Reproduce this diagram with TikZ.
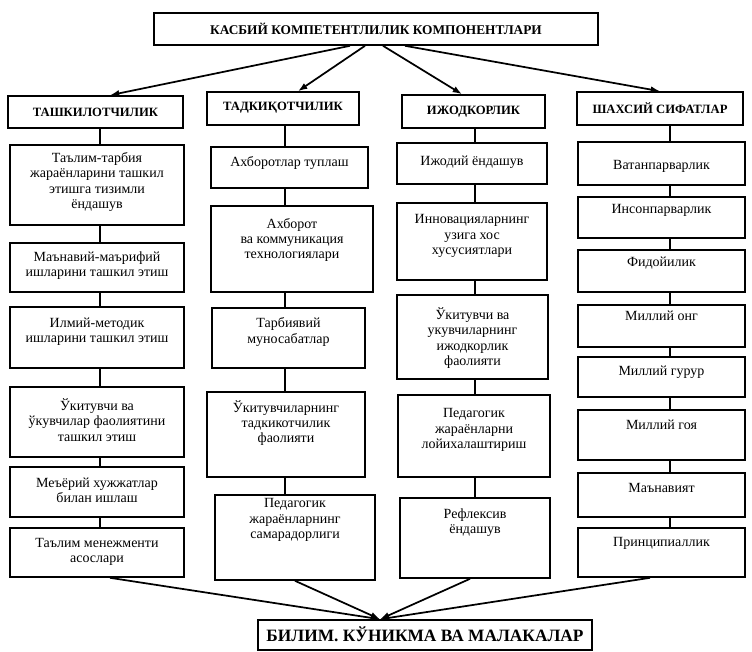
\documentclass[tikz,border=0pt]{standalone}
\usepackage{fontspec}
\setmainfont{Liberation Serif}
\usetikzlibrary{arrows.meta,calc,fit}
\tikzset{
  bx/.style={draw, line width=1.2pt, rectangle, inner sep=0pt},
  tx/.style={align=center, font=\fontsize{10.5}{11.4}\selectfont, inner sep=0pt},
  hd/.style={align=center, font=\fontsize{9.5}{11}\selectfont\bfseries, inner sep=0pt},
  ttl/.style={align=center, font=\fontsize{10}{11}\selectfont\bfseries, inner sep=0pt},
  bg/.style={align=center, font=\fontsize{13}{15}\selectfont\bfseries, inner sep=0pt},
  ln/.style={line width=1.2pt},
  ar/.style={line width=1.3pt, -{Latex[length=7pt,width=5pt]}},
}
% name, x1, y1, x2, y2, text y, text, style
\newcommand\mybox[8]{%
  \node[bx, fit={(#2,#3)(#4,#5)}] (#1) {};
  \node[#8] (#1t) at ({(#2+#4)/2},#6) {#7};
}
\begin{document}
\begin{tikzpicture}[x=0.75pt,y=-0.75pt]
\fill[white] (0,0) rectangle (752,651);
\useasboundingbox (0,0) rectangle (752,651);

% title and headers
\mybox{title}{154}{13}{598}{45}{29}{КАСБИЙ КОМПЕТЕНТЛИЛИК КОМПОНЕНТЛАРИ}{ttl}
\mybox{h1}{8}{96}{183}{128}{112}{ТАШКИЛОТЧИЛИК}{hd}
\mybox{h2}{207}{92}{359}{125}{108}{ТАДКИҚОТЧИЛИК}{hd}
\mybox{h3}{402}{95}{545}{128}{112}{ИЖОДКОРЛИК}{hd}
\mybox{h4}{577}{92}{743}{125}{108}{ШАХСИЙ СИФАТЛАР}{hd}

% column 1
\mybox{c11}{10}{145}{184}{225}{182}{Таълим-тарбия\\жараёнларини ташкил\\этишга тизимли\\ёндашув}{tx}
\mybox{c12}{10}{243}{184}{292}{266}{Маънавий-маърифий\\ишларини ташкил этиш}{tx}
\mybox{c13}{10}{307}{184}{368}{332}{Илмий-методик\\ишларини ташкил этиш}{tx}
\mybox{c14}{10}{387}{184}{457}{420}{Ўкитувчи ва\\ўкувчилар фаолиятини\\ташкил этиш}{tx}
\mybox{c15}{10}{467}{184}{517}{490}{Меъёрий хужжатлар\\билан ишлаш}{tx}
\mybox{c16}{10}{528}{184}{577}{552}{Таълим менежменти\\асослари}{tx}

% column 2
\mybox{c21}{211}{147}{368}{188}{163}{Ахборотлар туплаш}{tx}
\mybox{c22}{211}{206}{373}{292}{240}{Ахборот\\ва коммуникация\\технологиялари}{tx}
\mybox{c23}{212}{308}{365}{368}{332}{Тарбиявий\\муносабатлар}{tx}
\mybox{c24}{207}{392}{365}{477}{423}{Ўкитувчиларнинг\\тадкикотчилик\\фаолияти}{tx}
\mybox{c25}{215}{495}{375}{580}{520}{Педагогик\\жараёнларнинг\\самарадорлиги}{tx}

% column 3
\mybox{c31}{397}{143}{547}{184}{162}{Ижодий ёндашув}{tx}
\mybox{c32}{397}{203}{547}{280}{236}{Инновацияларнинг\\узига хос\\хусусиятлари}{tx}
\mybox{c33}{397}{295}{548}{379}{338}{Ўкитувчи ва\\укувчиларнинг\\ижодкорлик\\фаолияти}{tx}
\mybox{c34}{398}{395}{550}{477}{430}{Педагогик\\жараёнларни\\лойихалаштириш}{tx}
\mybox{c35}{400}{498}{550}{578}{523}{Рефлексив\\ёндашув}{tx}

% column 4
\mybox{c41}{578}{142}{745}{185}{166}{Ватанпарварлик}{tx}
\mybox{c42}{578}{197}{745}{238}{210}{Инсонпарварлик}{tx}
\mybox{c43}{578}{250}{745}{292}{263}{Фидойилик}{tx}
\mybox{c44}{578}{305}{745}{347}{316}{Миллий онг}{tx}
\mybox{c45}{578}{357}{745}{397}{372}{Миллий гурур}{tx}
\mybox{c46}{578}{410}{745}{460}{425}{Миллий гоя}{tx}
\mybox{c47}{578}{473}{745}{517}{488}{Маънавият}{tx}
\mybox{c48}{578}{528}{745}{577}{543}{Принципиаллик}{tx}

% bottom box
\mybox{bot}{258}{620}{592}{650}{634}{БИЛИМ. КЎНИКМА ВА МАЛАКАЛАР}{bg}

% column connector x positions
\coordinate (k1) at (100,0);
\coordinate (k2) at (285,0);
\coordinate (k3) at (475,0);
\coordinate (k4) at (670,0);

\foreach \a/\b in {h1/c11,c11/c12,c12/c13,c13/c14,c14/c15,c15/c16}
  \draw[ln] (\a.south -| k1) -- (\b.north -| k1);
\foreach \a/\b in {h2/c21,c21/c22,c22/c23,c23/c24,c24/c25}
  \draw[ln] (\a.south -| k2) -- (\b.north -| k2);
\foreach \a/\b in {h3/c31,c31/c32,c32/c33,c33/c34,c34/c35}
  \draw[ln] (\a.south -| k3) -- (\b.north -| k3);
\foreach \a/\b in {h4/c41,c41/c42,c42/c43,c43/c44,c44/c45,c45/c46,c46/c47,c47/c48}
  \draw[ln] (\a.south -| k4) -- (\b.north -| k4);

% top arrows
\coordinate (a1) at (110,0);
\coordinate (a2) at (298,0);
\coordinate (a3) at (462,0);
\coordinate (a4) at (660,0);
\draw[ar] ($(title.south)+(-26,0)$) -- (a1 |- h1.north);
\draw[ar] ($(title.south)+(-11,0)$) -- (a2 |- h2.north);
\draw[ar] ($(title.south)+(7,0)$) -- (a3 |- h3.north);
\draw[ar] ($(title.south)+(29,0)$) -- (a4 |- h4.north);

% bottom arrows
\coordinate (m) at (380,0);
\coordinate (s1) at (110,0);
\coordinate (s2) at (295,0);
\coordinate (s3) at (470,0);
\coordinate (s4) at (650,0);
\draw[ar] (c16.south -| s1) -- (m |- bot.north);
\draw[ar] (c25.south -| s2) -- (m |- bot.north);
\draw[ar] (c35.south -| s3) -- (m |- bot.north);
\draw[ar] (c48.south -| s4) -- (m |- bot.north);
\end{tikzpicture}
\end{document}
